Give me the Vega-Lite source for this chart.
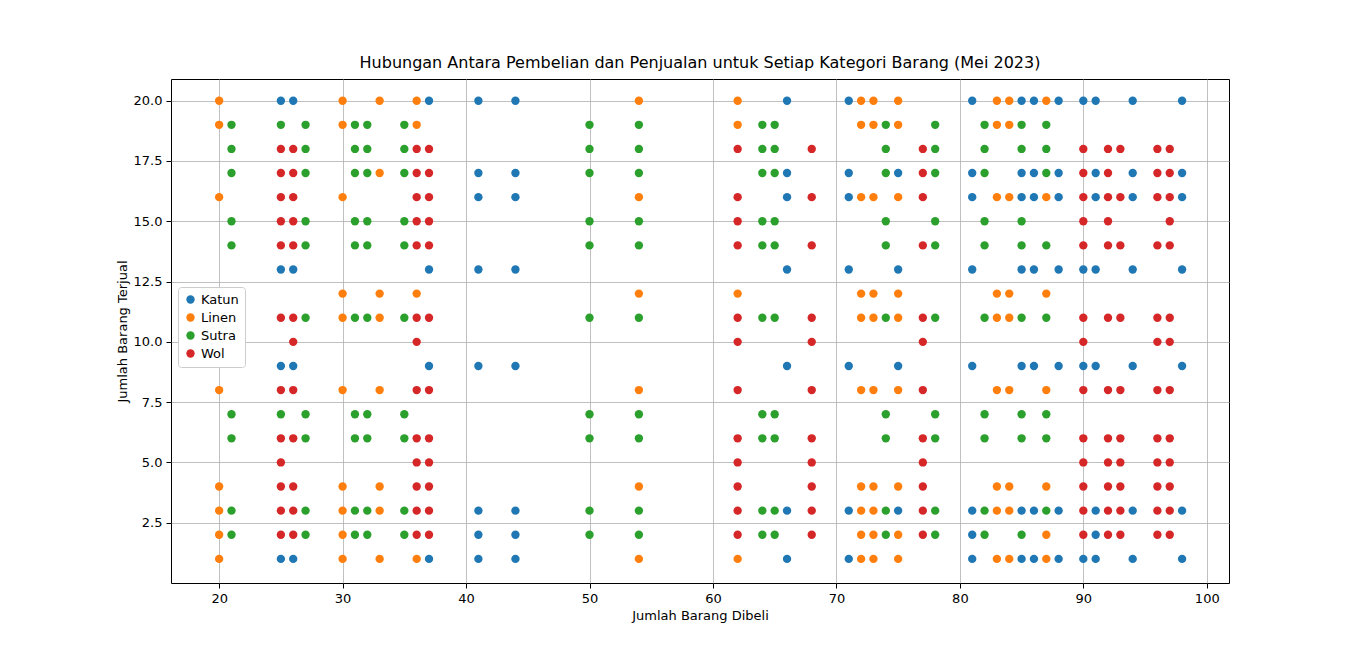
{
"$schema":"https://vega.github.io/schema/vega-lite/v6.json",
"autosize":"none",
"width":1058,"height":504,
"padding":{"left":171,"top":79,"right":137,"bottom":72},
"config":{"font":"DejaVu Sans","view":{"stroke":"black","strokeWidth":1},
"axis":{"grid":true,"gridColor":"#b0b0b0","gridWidth":0.8,"domain":false,"tickColor":"black","labelColor":"black","labelFontSize":13,"titleFontSize":13,"titleFontWeight":"normal","tickSize":5,"labelPadding":4}},
"title":{"text":"Hubungan Antara Pembelian dan Penjualan untuk Setiap Kategori Barang (Mei 2023)","fontSize":16,"fontWeight":"normal","offset":8},
"data":{"values":[
{"x":20,"y":20,"k":"Linen"},{"x":20,"y":19,"k":"Linen"},{"x":20,"y":16,"k":"Linen"},{"x":20,"y":12,"k":"Linen"},{"x":20,"y":11,"k":"Linen"},{"x":20,"y":8,"k":"Linen"},{"x":20,"y":4,"k":"Linen"},{"x":20,"y":3,"k":"Linen"},{"x":20,"y":2,"k":"Linen"},{"x":20,"y":1,"k":"Linen"},
{"x":21,"y":19,"k":"Sutra"},{"x":21,"y":18,"k":"Sutra"},{"x":21,"y":17,"k":"Sutra"},{"x":21,"y":15,"k":"Sutra"},{"x":21,"y":14,"k":"Sutra"},{"x":21,"y":11,"k":"Sutra"},{"x":21,"y":7,"k":"Sutra"},{"x":21,"y":6,"k":"Sutra"},{"x":21,"y":3,"k":"Sutra"},{"x":21,"y":2,"k":"Sutra"},
{"x":25,"y":20,"k":"Katun"},{"x":25,"y":13,"k":"Katun"},{"x":25,"y":9,"k":"Katun"},{"x":25,"y":1,"k":"Katun"},{"x":25,"y":19,"k":"Sutra"},{"x":25,"y":7,"k":"Sutra"},
{"x":25,"y":18,"k":"Wol"},{"x":25,"y":17,"k":"Wol"},{"x":25,"y":16,"k":"Wol"},{"x":25,"y":15,"k":"Wol"},{"x":25,"y":14,"k":"Wol"},{"x":25,"y":11,"k":"Wol"},{"x":25,"y":8,"k":"Wol"},{"x":25,"y":6,"k":"Wol"},{"x":25,"y":5,"k":"Wol"},{"x":25,"y":4,"k":"Wol"},{"x":25,"y":3,"k":"Wol"},{"x":25,"y":2,"k":"Wol"},
{"x":26,"y":20,"k":"Katun"},{"x":26,"y":13,"k":"Katun"},{"x":26,"y":9,"k":"Katun"},{"x":26,"y":1,"k":"Katun"},
{"x":26,"y":18,"k":"Wol"},{"x":26,"y":17,"k":"Wol"},{"x":26,"y":16,"k":"Wol"},{"x":26,"y":15,"k":"Wol"},{"x":26,"y":14,"k":"Wol"},{"x":26,"y":11,"k":"Wol"},{"x":26,"y":10,"k":"Wol"},{"x":26,"y":8,"k":"Wol"},{"x":26,"y":6,"k":"Wol"},{"x":26,"y":4,"k":"Wol"},{"x":26,"y":3,"k":"Wol"},{"x":26,"y":2,"k":"Wol"},
{"x":27,"y":19,"k":"Sutra"},{"x":27,"y":18,"k":"Sutra"},{"x":27,"y":17,"k":"Sutra"},{"x":27,"y":15,"k":"Sutra"},{"x":27,"y":14,"k":"Sutra"},{"x":27,"y":11,"k":"Sutra"},{"x":27,"y":7,"k":"Sutra"},{"x":27,"y":6,"k":"Sutra"},{"x":27,"y":3,"k":"Sutra"},{"x":27,"y":2,"k":"Sutra"},
{"x":30,"y":20,"k":"Linen"},{"x":30,"y":19,"k":"Linen"},{"x":30,"y":16,"k":"Linen"},{"x":30,"y":12,"k":"Linen"},{"x":30,"y":11,"k":"Linen"},{"x":30,"y":8,"k":"Linen"},{"x":30,"y":4,"k":"Linen"},{"x":30,"y":3,"k":"Linen"},{"x":30,"y":2,"k":"Linen"},{"x":30,"y":1,"k":"Linen"},
{"x":31,"y":19,"k":"Sutra"},{"x":31,"y":18,"k":"Sutra"},{"x":31,"y":17,"k":"Sutra"},{"x":31,"y":15,"k":"Sutra"},{"x":31,"y":14,"k":"Sutra"},{"x":31,"y":11,"k":"Sutra"},{"x":31,"y":7,"k":"Sutra"},{"x":31,"y":6,"k":"Sutra"},{"x":31,"y":3,"k":"Sutra"},{"x":31,"y":2,"k":"Sutra"},
{"x":32,"y":19,"k":"Sutra"},{"x":32,"y":18,"k":"Sutra"},{"x":32,"y":17,"k":"Sutra"},{"x":32,"y":15,"k":"Sutra"},{"x":32,"y":14,"k":"Sutra"},{"x":32,"y":11,"k":"Sutra"},{"x":32,"y":7,"k":"Sutra"},{"x":32,"y":6,"k":"Sutra"},{"x":32,"y":3,"k":"Sutra"},{"x":32,"y":2,"k":"Sutra"},
{"x":33,"y":20,"k":"Linen"},{"x":33,"y":17,"k":"Linen"},{"x":33,"y":12,"k":"Linen"},{"x":33,"y":11,"k":"Linen"},{"x":33,"y":8,"k":"Linen"},{"x":33,"y":4,"k":"Linen"},{"x":33,"y":3,"k":"Linen"},{"x":33,"y":1,"k":"Linen"},
{"x":35,"y":19,"k":"Sutra"},{"x":35,"y":18,"k":"Sutra"},{"x":35,"y":17,"k":"Sutra"},{"x":35,"y":15,"k":"Sutra"},{"x":35,"y":14,"k":"Sutra"},{"x":35,"y":11,"k":"Sutra"},{"x":35,"y":7,"k":"Sutra"},{"x":35,"y":6,"k":"Sutra"},{"x":35,"y":3,"k":"Sutra"},{"x":35,"y":2,"k":"Sutra"},
{"x":36,"y":20,"k":"Linen"},{"x":36,"y":19,"k":"Linen"},{"x":36,"y":12,"k":"Linen"},{"x":36,"y":1,"k":"Linen"},
{"x":36,"y":18,"k":"Wol"},{"x":36,"y":17,"k":"Wol"},{"x":36,"y":16,"k":"Wol"},{"x":36,"y":15,"k":"Wol"},{"x":36,"y":14,"k":"Wol"},{"x":36,"y":11,"k":"Wol"},{"x":36,"y":10,"k":"Wol"},{"x":36,"y":8,"k":"Wol"},{"x":36,"y":6,"k":"Wol"},{"x":36,"y":5,"k":"Wol"},{"x":36,"y":4,"k":"Wol"},{"x":36,"y":3,"k":"Wol"},{"x":36,"y":2,"k":"Wol"},
{"x":37,"y":20,"k":"Katun"},{"x":37,"y":13,"k":"Katun"},{"x":37,"y":9,"k":"Katun"},{"x":37,"y":1,"k":"Katun"},
{"x":37,"y":18,"k":"Wol"},{"x":37,"y":17,"k":"Wol"},{"x":37,"y":16,"k":"Wol"},{"x":37,"y":15,"k":"Wol"},{"x":37,"y":14,"k":"Wol"},{"x":37,"y":11,"k":"Wol"},{"x":37,"y":8,"k":"Wol"},{"x":37,"y":6,"k":"Wol"},{"x":37,"y":5,"k":"Wol"},{"x":37,"y":4,"k":"Wol"},{"x":37,"y":3,"k":"Wol"},{"x":37,"y":2,"k":"Wol"},
{"x":41,"y":20,"k":"Katun"},{"x":41,"y":17,"k":"Katun"},{"x":41,"y":16,"k":"Katun"},{"x":41,"y":13,"k":"Katun"},{"x":41,"y":9,"k":"Katun"},{"x":41,"y":3,"k":"Katun"},{"x":41,"y":2,"k":"Katun"},{"x":41,"y":1,"k":"Katun"},
{"x":44,"y":20,"k":"Katun"},{"x":44,"y":17,"k":"Katun"},{"x":44,"y":16,"k":"Katun"},{"x":44,"y":13,"k":"Katun"},{"x":44,"y":9,"k":"Katun"},{"x":44,"y":3,"k":"Katun"},{"x":44,"y":2,"k":"Katun"},{"x":44,"y":1,"k":"Katun"},
{"x":50,"y":19,"k":"Sutra"},{"x":50,"y":18,"k":"Sutra"},{"x":50,"y":17,"k":"Sutra"},{"x":50,"y":15,"k":"Sutra"},{"x":50,"y":14,"k":"Sutra"},{"x":50,"y":11,"k":"Sutra"},{"x":50,"y":7,"k":"Sutra"},{"x":50,"y":6,"k":"Sutra"},{"x":50,"y":3,"k":"Sutra"},{"x":50,"y":2,"k":"Sutra"},
{"x":54,"y":20,"k":"Linen"},{"x":54,"y":16,"k":"Linen"},{"x":54,"y":12,"k":"Linen"},{"x":54,"y":8,"k":"Linen"},{"x":54,"y":4,"k":"Linen"},{"x":54,"y":1,"k":"Linen"},
{"x":54,"y":19,"k":"Sutra"},{"x":54,"y":18,"k":"Sutra"},{"x":54,"y":17,"k":"Sutra"},{"x":54,"y":15,"k":"Sutra"},{"x":54,"y":14,"k":"Sutra"},{"x":54,"y":11,"k":"Sutra"},{"x":54,"y":7,"k":"Sutra"},{"x":54,"y":6,"k":"Sutra"},{"x":54,"y":3,"k":"Sutra"},{"x":54,"y":2,"k":"Sutra"},
{"x":62,"y":20,"k":"Linen"},{"x":62,"y":19,"k":"Linen"},{"x":62,"y":12,"k":"Linen"},{"x":62,"y":1,"k":"Linen"},
{"x":62,"y":18,"k":"Wol"},{"x":62,"y":16,"k":"Wol"},{"x":62,"y":15,"k":"Wol"},{"x":62,"y":14,"k":"Wol"},{"x":62,"y":11,"k":"Wol"},{"x":62,"y":10,"k":"Wol"},{"x":62,"y":8,"k":"Wol"},{"x":62,"y":6,"k":"Wol"},{"x":62,"y":5,"k":"Wol"},{"x":62,"y":4,"k":"Wol"},{"x":62,"y":3,"k":"Wol"},{"x":62,"y":2,"k":"Wol"},
{"x":64,"y":19,"k":"Sutra"},{"x":64,"y":18,"k":"Sutra"},{"x":64,"y":17,"k":"Sutra"},{"x":64,"y":15,"k":"Sutra"},{"x":64,"y":14,"k":"Sutra"},{"x":64,"y":11,"k":"Sutra"},{"x":64,"y":7,"k":"Sutra"},{"x":64,"y":6,"k":"Sutra"},{"x":64,"y":3,"k":"Sutra"},{"x":64,"y":2,"k":"Sutra"},
{"x":65,"y":19,"k":"Sutra"},{"x":65,"y":18,"k":"Sutra"},{"x":65,"y":17,"k":"Sutra"},{"x":65,"y":15,"k":"Sutra"},{"x":65,"y":14,"k":"Sutra"},{"x":65,"y":11,"k":"Sutra"},{"x":65,"y":7,"k":"Sutra"},{"x":65,"y":6,"k":"Sutra"},{"x":65,"y":3,"k":"Sutra"},{"x":65,"y":2,"k":"Sutra"},
{"x":66,"y":20,"k":"Katun"},{"x":66,"y":17,"k":"Katun"},{"x":66,"y":16,"k":"Katun"},{"x":66,"y":13,"k":"Katun"},{"x":66,"y":9,"k":"Katun"},{"x":66,"y":3,"k":"Katun"},{"x":66,"y":1,"k":"Katun"},
{"x":68,"y":18,"k":"Wol"},{"x":68,"y":16,"k":"Wol"},{"x":68,"y":14,"k":"Wol"},{"x":68,"y":11,"k":"Wol"},{"x":68,"y":10,"k":"Wol"},{"x":68,"y":8,"k":"Wol"},{"x":68,"y":6,"k":"Wol"},{"x":68,"y":5,"k":"Wol"},{"x":68,"y":4,"k":"Wol"},{"x":68,"y":3,"k":"Wol"},{"x":68,"y":2,"k":"Wol"},
{"x":71,"y":20,"k":"Katun"},{"x":71,"y":17,"k":"Katun"},{"x":71,"y":16,"k":"Katun"},{"x":71,"y":13,"k":"Katun"},{"x":71,"y":9,"k":"Katun"},{"x":71,"y":3,"k":"Katun"},{"x":71,"y":1,"k":"Katun"},
{"x":72,"y":20,"k":"Linen"},{"x":72,"y":19,"k":"Linen"},{"x":72,"y":16,"k":"Linen"},{"x":72,"y":12,"k":"Linen"},{"x":72,"y":11,"k":"Linen"},{"x":72,"y":8,"k":"Linen"},{"x":72,"y":4,"k":"Linen"},{"x":72,"y":3,"k":"Linen"},{"x":72,"y":2,"k":"Linen"},{"x":72,"y":1,"k":"Linen"},
{"x":73,"y":20,"k":"Linen"},{"x":73,"y":19,"k":"Linen"},{"x":73,"y":16,"k":"Linen"},{"x":73,"y":12,"k":"Linen"},{"x":73,"y":11,"k":"Linen"},{"x":73,"y":8,"k":"Linen"},{"x":73,"y":4,"k":"Linen"},{"x":73,"y":3,"k":"Linen"},{"x":73,"y":2,"k":"Linen"},{"x":73,"y":1,"k":"Linen"},
{"x":74,"y":19,"k":"Sutra"},{"x":74,"y":18,"k":"Sutra"},{"x":74,"y":17,"k":"Sutra"},{"x":74,"y":15,"k":"Sutra"},{"x":74,"y":14,"k":"Sutra"},{"x":74,"y":11,"k":"Sutra"},{"x":74,"y":7,"k":"Sutra"},{"x":74,"y":6,"k":"Sutra"},{"x":74,"y":3,"k":"Sutra"},{"x":74,"y":2,"k":"Sutra"},
{"x":75,"y":17,"k":"Katun"},{"x":75,"y":13,"k":"Katun"},{"x":75,"y":9,"k":"Katun"},{"x":75,"y":3,"k":"Katun"},
{"x":75,"y":20,"k":"Linen"},{"x":75,"y":19,"k":"Linen"},{"x":75,"y":16,"k":"Linen"},{"x":75,"y":12,"k":"Linen"},{"x":75,"y":11,"k":"Linen"},{"x":75,"y":8,"k":"Linen"},{"x":75,"y":4,"k":"Linen"},{"x":75,"y":2,"k":"Linen"},{"x":75,"y":1,"k":"Linen"},
{"x":77,"y":18,"k":"Wol"},{"x":77,"y":17,"k":"Wol"},{"x":77,"y":16,"k":"Wol"},{"x":77,"y":14,"k":"Wol"},{"x":77,"y":11,"k":"Wol"},{"x":77,"y":10,"k":"Wol"},{"x":77,"y":8,"k":"Wol"},{"x":77,"y":6,"k":"Wol"},{"x":77,"y":5,"k":"Wol"},{"x":77,"y":4,"k":"Wol"},{"x":77,"y":3,"k":"Wol"},{"x":77,"y":2,"k":"Wol"},
{"x":78,"y":19,"k":"Sutra"},{"x":78,"y":18,"k":"Sutra"},{"x":78,"y":17,"k":"Sutra"},{"x":78,"y":15,"k":"Sutra"},{"x":78,"y":14,"k":"Sutra"},{"x":78,"y":11,"k":"Sutra"},{"x":78,"y":7,"k":"Sutra"},{"x":78,"y":6,"k":"Sutra"},{"x":78,"y":3,"k":"Sutra"},{"x":78,"y":2,"k":"Sutra"},
{"x":81,"y":20,"k":"Katun"},{"x":81,"y":17,"k":"Katun"},{"x":81,"y":16,"k":"Katun"},{"x":81,"y":13,"k":"Katun"},{"x":81,"y":9,"k":"Katun"},{"x":81,"y":3,"k":"Katun"},{"x":81,"y":2,"k":"Katun"},{"x":81,"y":1,"k":"Katun"},
{"x":82,"y":19,"k":"Sutra"},{"x":82,"y":18,"k":"Sutra"},{"x":82,"y":17,"k":"Sutra"},{"x":82,"y":15,"k":"Sutra"},{"x":82,"y":14,"k":"Sutra"},{"x":82,"y":11,"k":"Sutra"},{"x":82,"y":7,"k":"Sutra"},{"x":82,"y":6,"k":"Sutra"},{"x":82,"y":3,"k":"Sutra"},{"x":82,"y":2,"k":"Sutra"},
{"x":83,"y":20,"k":"Linen"},{"x":83,"y":19,"k":"Linen"},{"x":83,"y":16,"k":"Linen"},{"x":83,"y":12,"k":"Linen"},{"x":83,"y":11,"k":"Linen"},{"x":83,"y":8,"k":"Linen"},{"x":83,"y":4,"k":"Linen"},{"x":83,"y":3,"k":"Linen"},{"x":83,"y":1,"k":"Linen"},
{"x":84,"y":20,"k":"Linen"},{"x":84,"y":19,"k":"Linen"},{"x":84,"y":16,"k":"Linen"},{"x":84,"y":12,"k":"Linen"},{"x":84,"y":11,"k":"Linen"},{"x":84,"y":8,"k":"Linen"},{"x":84,"y":4,"k":"Linen"},{"x":84,"y":3,"k":"Linen"},{"x":84,"y":1,"k":"Linen"},
{"x":85,"y":19,"k":"Sutra"},{"x":85,"y":18,"k":"Sutra"},{"x":85,"y":15,"k":"Sutra"},{"x":85,"y":14,"k":"Sutra"},{"x":85,"y":11,"k":"Sutra"},{"x":85,"y":7,"k":"Sutra"},{"x":85,"y":6,"k":"Sutra"},{"x":85,"y":2,"k":"Sutra"},
{"x":85,"y":20,"k":"Katun"},{"x":85,"y":17,"k":"Katun"},{"x":85,"y":16,"k":"Katun"},{"x":85,"y":13,"k":"Katun"},{"x":85,"y":9,"k":"Katun"},{"x":85,"y":3,"k":"Katun"},{"x":85,"y":1,"k":"Katun"},
{"x":86,"y":20,"k":"Katun"},{"x":86,"y":17,"k":"Katun"},{"x":86,"y":16,"k":"Katun"},{"x":86,"y":13,"k":"Katun"},{"x":86,"y":9,"k":"Katun"},{"x":86,"y":3,"k":"Katun"},{"x":86,"y":1,"k":"Katun"},
{"x":87,"y":20,"k":"Linen"},{"x":87,"y":16,"k":"Linen"},{"x":87,"y":12,"k":"Linen"},{"x":87,"y":8,"k":"Linen"},{"x":87,"y":4,"k":"Linen"},{"x":87,"y":2,"k":"Linen"},{"x":87,"y":1,"k":"Linen"},
{"x":87,"y":19,"k":"Sutra"},{"x":87,"y":18,"k":"Sutra"},{"x":87,"y":17,"k":"Sutra"},{"x":87,"y":14,"k":"Sutra"},{"x":87,"y":11,"k":"Sutra"},{"x":87,"y":7,"k":"Sutra"},{"x":87,"y":6,"k":"Sutra"},{"x":87,"y":3,"k":"Sutra"},
{"x":88,"y":20,"k":"Katun"},{"x":88,"y":17,"k":"Katun"},{"x":88,"y":16,"k":"Katun"},{"x":88,"y":13,"k":"Katun"},{"x":88,"y":9,"k":"Katun"},{"x":88,"y":3,"k":"Katun"},{"x":88,"y":1,"k":"Katun"},
{"x":90,"y":20,"k":"Katun"},{"x":90,"y":13,"k":"Katun"},{"x":90,"y":9,"k":"Katun"},{"x":90,"y":1,"k":"Katun"},
{"x":90,"y":18,"k":"Wol"},{"x":90,"y":17,"k":"Wol"},{"x":90,"y":16,"k":"Wol"},{"x":90,"y":15,"k":"Wol"},{"x":90,"y":14,"k":"Wol"},{"x":90,"y":11,"k":"Wol"},{"x":90,"y":10,"k":"Wol"},{"x":90,"y":8,"k":"Wol"},{"x":90,"y":6,"k":"Wol"},{"x":90,"y":5,"k":"Wol"},{"x":90,"y":4,"k":"Wol"},{"x":90,"y":3,"k":"Wol"},{"x":90,"y":2,"k":"Wol"},
{"x":91,"y":20,"k":"Katun"},{"x":91,"y":17,"k":"Katun"},{"x":91,"y":16,"k":"Katun"},{"x":91,"y":13,"k":"Katun"},{"x":91,"y":9,"k":"Katun"},{"x":91,"y":3,"k":"Katun"},{"x":91,"y":2,"k":"Katun"},{"x":91,"y":1,"k":"Katun"},
{"x":92,"y":18,"k":"Wol"},{"x":92,"y":17,"k":"Wol"},{"x":92,"y":16,"k":"Wol"},{"x":92,"y":15,"k":"Wol"},{"x":92,"y":14,"k":"Wol"},{"x":92,"y":11,"k":"Wol"},{"x":92,"y":8,"k":"Wol"},{"x":92,"y":6,"k":"Wol"},{"x":92,"y":5,"k":"Wol"},{"x":92,"y":4,"k":"Wol"},{"x":92,"y":3,"k":"Wol"},{"x":92,"y":2,"k":"Wol"},
{"x":93,"y":18,"k":"Wol"},{"x":93,"y":16,"k":"Wol"},{"x":93,"y":14,"k":"Wol"},{"x":93,"y":11,"k":"Wol"},{"x":93,"y":8,"k":"Wol"},{"x":93,"y":6,"k":"Wol"},{"x":93,"y":5,"k":"Wol"},{"x":93,"y":4,"k":"Wol"},{"x":93,"y":3,"k":"Wol"},{"x":93,"y":2,"k":"Wol"},
{"x":94,"y":20,"k":"Katun"},{"x":94,"y":17,"k":"Katun"},{"x":94,"y":16,"k":"Katun"},{"x":94,"y":13,"k":"Katun"},{"x":94,"y":9,"k":"Katun"},{"x":94,"y":3,"k":"Katun"},{"x":94,"y":1,"k":"Katun"},
{"x":96,"y":18,"k":"Wol"},{"x":96,"y":17,"k":"Wol"},{"x":96,"y":16,"k":"Wol"},{"x":96,"y":14,"k":"Wol"},{"x":96,"y":11,"k":"Wol"},{"x":96,"y":10,"k":"Wol"},{"x":96,"y":8,"k":"Wol"},{"x":96,"y":6,"k":"Wol"},{"x":96,"y":5,"k":"Wol"},{"x":96,"y":4,"k":"Wol"},{"x":96,"y":3,"k":"Wol"},{"x":96,"y":2,"k":"Wol"},
{"x":97,"y":18,"k":"Wol"},{"x":97,"y":17,"k":"Wol"},{"x":97,"y":16,"k":"Wol"},{"x":97,"y":15,"k":"Wol"},{"x":97,"y":14,"k":"Wol"},{"x":97,"y":11,"k":"Wol"},{"x":97,"y":10,"k":"Wol"},{"x":97,"y":8,"k":"Wol"},{"x":97,"y":6,"k":"Wol"},{"x":97,"y":5,"k":"Wol"},{"x":97,"y":4,"k":"Wol"},{"x":97,"y":3,"k":"Wol"},{"x":97,"y":2,"k":"Wol"},
{"x":98,"y":20,"k":"Katun"},{"x":98,"y":17,"k":"Katun"},{"x":98,"y":16,"k":"Katun"},{"x":98,"y":13,"k":"Katun"},{"x":98,"y":9,"k":"Katun"},{"x":98,"y":3,"k":"Katun"},{"x":98,"y":1,"k":"Katun"}
]},
"mark":{"type":"circle","size":70,"opacity":1},
"encoding":{
"x":{"field":"x","type":"quantitative","title":"Jumlah Barang Dibeli","scale":{"domain":[16.1,101.8],"nice":false,"zero":false},"axis":{"values":[20,30,40,50,60,70,80,90,100],"labelFlush":false}},
"y":{"field":"y","type":"quantitative","title":"Jumlah Barang Terjual","scale":{"domain":[0,20.9],"nice":false,"zero":false},"axis":{"values":[2.5,5,7.5,10,12.5,15,17.5,20],"format":".1f"}},
"color":{"field":"k","type":"nominal","scale":{"domain":["Katun","Linen","Sutra","Wol"],"range":["#1f77b4","#ff7f0e","#2ca02c","#d62728"]},
"legend":{"title":null,"orient":"none","legendX":7,"legendY":208,"labelFontSize":13,"symbolSize":70,"fillColor":"white","strokeColor":"#cccccc","padding":6,"cornerRadius":3,"rowPadding":4}}
}
}
